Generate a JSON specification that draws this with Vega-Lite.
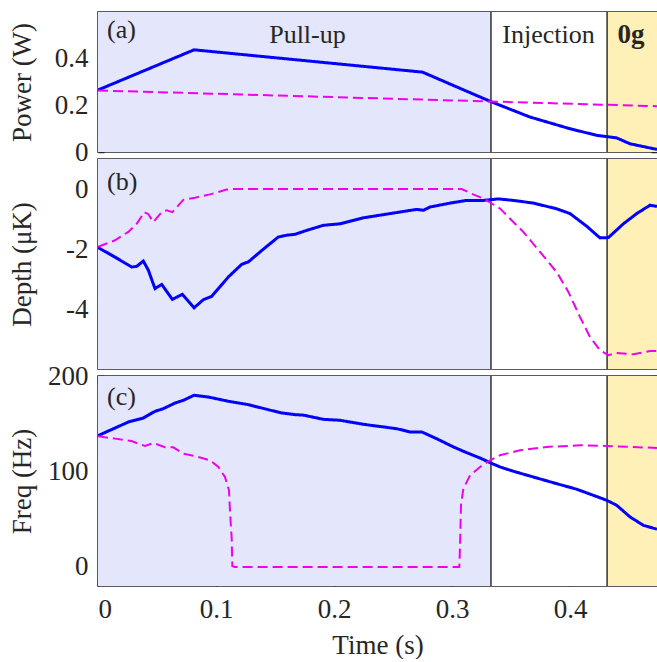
{
  "$schema": "https://vega.github.io/schema/vega-lite/v6.json",
  "padding": {"left": 7, "top": 10, "right": 0, "bottom": 0},
  "bounds": "flush",
  "spacing": 7,
  "datasets": {
    "phases": [
      {"phase": "Pull-up", "start": 0, "end": 0.333},
      {"phase": "Injection", "start": 0.333, "end": 0.4314},
      {"phase": "0g", "start": 0.4314, "end": 0.4737}
    ],
    "labels": [
      {"panel": "a", "kind": "panel", "t": 0.0076, "v": 0.519, "text": "(a)"},
      {"panel": "b", "kind": "panel", "t": 0.0076, "v": 0.23, "text": "(b)"},
      {"panel": "c", "kind": "panel", "t": 0.0076, "v": 178, "text": "(c)"},
      {"panel": "a", "kind": "phase", "t": 0.1775, "v": 0.5, "text": "Pull-up"},
      {"panel": "a", "kind": "phase", "t": 0.3818, "v": 0.5, "text": "Injection"},
      {"panel": "a", "kind": "bold", "t": 0.4517, "v": 0.5, "text": "0g"}
    ],
    "power": [
      {"series": "s1", "t": 0, "v": 0.264},
      {"series": "s1", "t": 0.0814, "v": 0.435},
      {"series": "s1", "t": 0.275, "v": 0.34},
      {"series": "s1", "t": 0.304, "v": 0.277},
      {"series": "s1", "t": 0.3336, "v": 0.213},
      {"series": "s1", "t": 0.366, "v": 0.149},
      {"series": "s1", "t": 0.4, "v": 0.099},
      {"series": "s1", "t": 0.4226, "v": 0.071},
      {"series": "s1", "t": 0.4395, "v": 0.06},
      {"series": "s1", "t": 0.4508, "v": 0.035},
      {"series": "s1", "t": 0.4737, "v": 0.011},
      {"series": "s2", "t": 0, "v": 0.262},
      {"series": "s2", "t": 0.4737, "v": 0.195}
    ],
    "depth": [
      {"series": "s1", "t": 0, "v": -1.95},
      {"series": "s1", "t": 0.0144, "v": -2.27},
      {"series": "s1", "t": 0.0285, "v": -2.6},
      {"series": "s1", "t": 0.0328, "v": -2.58},
      {"series": "s1", "t": 0.0384, "v": -2.4},
      {"series": "s1", "t": 0.0427, "v": -2.71},
      {"series": "s1", "t": 0.0483, "v": -3.32},
      {"series": "s1", "t": 0.054, "v": -3.18},
      {"series": "s1", "t": 0.063, "v": -3.68},
      {"series": "s1", "t": 0.0715, "v": -3.51},
      {"series": "s1", "t": 0.0814, "v": -3.96},
      {"series": "s1", "t": 0.0893, "v": -3.69},
      {"series": "s1", "t": 0.0963, "v": -3.58},
      {"series": "s1", "t": 0.1105, "v": -2.93},
      {"series": "s1", "t": 0.1218, "v": -2.51},
      {"series": "s1", "t": 0.1274, "v": -2.43},
      {"series": "s1", "t": 0.1415, "v": -1.96},
      {"series": "s1", "t": 0.1528, "v": -1.6},
      {"series": "s1", "t": 0.16, "v": -1.54},
      {"series": "s1", "t": 0.167, "v": -1.51},
      {"series": "s1", "t": 0.1768, "v": -1.38},
      {"series": "s1", "t": 0.191, "v": -1.21},
      {"series": "s1", "t": 0.2051, "v": -1.16},
      {"series": "s1", "t": 0.2249, "v": -0.96},
      {"series": "s1", "t": 0.2475, "v": -0.82},
      {"series": "s1", "t": 0.27, "v": -0.68},
      {"series": "s1", "t": 0.2757, "v": -0.71},
      {"series": "s1", "t": 0.2814, "v": -0.6},
      {"series": "s1", "t": 0.2983, "v": -0.47},
      {"series": "s1", "t": 0.3124, "v": -0.38},
      {"series": "s1", "t": 0.3266, "v": -0.38},
      {"series": "s1", "t": 0.3393, "v": -0.33},
      {"series": "s1", "t": 0.352, "v": -0.38},
      {"series": "s1", "t": 0.3689, "v": -0.47},
      {"series": "s1", "t": 0.3887, "v": -0.66},
      {"series": "s1", "t": 0.4, "v": -0.82},
      {"series": "s1", "t": 0.4141, "v": -1.24},
      {"series": "s1", "t": 0.4254, "v": -1.63},
      {"series": "s1", "t": 0.4325, "v": -1.62},
      {"series": "s1", "t": 0.4452, "v": -1.16},
      {"series": "s1", "t": 0.4565, "v": -0.82},
      {"series": "s1", "t": 0.4678, "v": -0.54},
      {"series": "s1", "t": 0.4737, "v": -0.58},
      {"series": "s2", "t": 0, "v": -1.93},
      {"series": "s2", "t": 0.0144, "v": -1.71},
      {"series": "s2", "t": 0.0257, "v": -1.43},
      {"series": "s2", "t": 0.0328, "v": -1.16},
      {"series": "s2", "t": 0.0393, "v": -0.77},
      {"series": "s2", "t": 0.0427, "v": -0.84},
      {"series": "s2", "t": 0.0469, "v": -1.1},
      {"series": "s2", "t": 0.054, "v": -0.77},
      {"series": "s2", "t": 0.0582, "v": -0.71},
      {"series": "s2", "t": 0.063, "v": -0.77},
      {"series": "s2", "t": 0.0723, "v": -0.36},
      {"series": "s2", "t": 0.0822, "v": -0.29},
      {"series": "s2", "t": 0.0949, "v": -0.18},
      {"series": "s2", "t": 0.109, "v": -0.02},
      {"series": "s2", "t": 0.1133, "v": 0},
      {"series": "s2", "t": 0.3082, "v": 0},
      {"series": "s2", "t": 0.3167, "v": -0.16},
      {"series": "s2", "t": 0.3266, "v": -0.32},
      {"series": "s2", "t": 0.3322, "v": -0.45},
      {"series": "s2", "t": 0.3407, "v": -0.65},
      {"series": "s2", "t": 0.3492, "v": -0.99},
      {"series": "s2", "t": 0.3604, "v": -1.43},
      {"series": "s2", "t": 0.3746, "v": -2.1},
      {"series": "s2", "t": 0.3887, "v": -2.77},
      {"series": "s2", "t": 0.3986, "v": -3.43},
      {"series": "s2", "t": 0.4085, "v": -4.27},
      {"series": "s2", "t": 0.4169, "v": -4.93},
      {"series": "s2", "t": 0.4254, "v": -5.38},
      {"series": "s2", "t": 0.4325, "v": -5.54},
      {"series": "s2", "t": 0.4395, "v": -5.47},
      {"series": "s2", "t": 0.4537, "v": -5.51},
      {"series": "s2", "t": 0.4678, "v": -5.4},
      {"series": "s2", "t": 0.4737, "v": -5.4}
    ],
    "freq": [
      {"series": "s1", "t": 0, "v": 137.5},
      {"series": "s1", "t": 0.0144, "v": 145.5},
      {"series": "s1", "t": 0.0257, "v": 151.8},
      {"series": "s1", "t": 0.0384, "v": 156},
      {"series": "s1", "t": 0.0483, "v": 163},
      {"series": "s1", "t": 0.0554, "v": 165.8},
      {"series": "s1", "t": 0.0653, "v": 171.7},
      {"series": "s1", "t": 0.0723, "v": 174.5},
      {"series": "s1", "t": 0.0814, "v": 179.8},
      {"series": "s1", "t": 0.0935, "v": 178},
      {"series": "s1", "t": 0.1105, "v": 173.5},
      {"series": "s1", "t": 0.1274, "v": 170},
      {"series": "s1", "t": 0.1443, "v": 164.7},
      {"series": "s1", "t": 0.1556, "v": 161.3},
      {"series": "s1", "t": 0.167, "v": 159.5},
      {"series": "s1", "t": 0.174, "v": 159},
      {"series": "s1", "t": 0.191, "v": 154.6},
      {"series": "s1", "t": 0.2051, "v": 153.6},
      {"series": "s1", "t": 0.2249, "v": 149.4},
      {"series": "s1", "t": 0.2531, "v": 144.8},
      {"series": "s1", "t": 0.2644, "v": 141.4},
      {"series": "s1", "t": 0.2743, "v": 141.4},
      {"series": "s1", "t": 0.287, "v": 134.3},
      {"series": "s1", "t": 0.3011, "v": 125.7},
      {"series": "s1", "t": 0.3124, "v": 119.7},
      {"series": "s1", "t": 0.3237, "v": 114.1},
      {"series": "s1", "t": 0.3322, "v": 109.2},
      {"series": "s1", "t": 0.3407, "v": 104.7},
      {"series": "s1", "t": 0.352, "v": 100.2},
      {"series": "s1", "t": 0.3689, "v": 94.2},
      {"series": "s1", "t": 0.3887, "v": 87.2},
      {"series": "s1", "t": 0.4056, "v": 81.4},
      {"series": "s1", "t": 0.4198, "v": 75},
      {"series": "s1", "t": 0.4311, "v": 69.8},
      {"series": "s1", "t": 0.4395, "v": 64.6},
      {"series": "s1", "t": 0.4508, "v": 52.4},
      {"series": "s1", "t": 0.4621, "v": 43.6},
      {"series": "s1", "t": 0.4737, "v": 39.5},
      {"series": "s2", "t": 0, "v": 136.8},
      {"series": "s2", "t": 0.0144, "v": 134.4},
      {"series": "s2", "t": 0.0285, "v": 131.9},
      {"series": "s2", "t": 0.0342, "v": 129.1},
      {"series": "s2", "t": 0.0398, "v": 126.7},
      {"series": "s2", "t": 0.0469, "v": 129.8},
      {"series": "s2", "t": 0.0568, "v": 125.3},
      {"series": "s2", "t": 0.0638, "v": 125.3},
      {"series": "s2", "t": 0.0723, "v": 118.7},
      {"series": "s2", "t": 0.0822, "v": 116.2},
      {"series": "s2", "t": 0.0949, "v": 111.7},
      {"series": "s2", "t": 0.102, "v": 104.7},
      {"series": "s2", "t": 0.1076, "v": 94.2},
      {"series": "s2", "t": 0.111, "v": 80.3},
      {"series": "s2", "t": 0.1119, "v": 57.6},
      {"series": "s2", "t": 0.1133, "v": 29.6},
      {"series": "s2", "t": 0.1138, "v": 1},
      {"series": "s2", "t": 0.1158, "v": 0},
      {"series": "s2", "t": 0.3062, "v": 0},
      {"series": "s2", "t": 0.3068, "v": 22.7},
      {"series": "s2", "t": 0.3076, "v": 64.6},
      {"series": "s2", "t": 0.3096, "v": 82},
      {"series": "s2", "t": 0.3153, "v": 96},
      {"series": "s2", "t": 0.3237, "v": 104.7},
      {"series": "s2", "t": 0.3322, "v": 111.7},
      {"series": "s2", "t": 0.3407, "v": 117},
      {"series": "s2", "t": 0.3576, "v": 122.2},
      {"series": "s2", "t": 0.3802, "v": 125.7},
      {"series": "s2", "t": 0.4085, "v": 127.4},
      {"series": "s2", "t": 0.4311, "v": 126.7},
      {"series": "s2", "t": 0.4508, "v": 125.7},
      {"series": "s2", "t": 0.4737, "v": 124.6}
    ]
  },
  "vconcat": [
    {
      "width": 559,
      "height": 140,
      "resolve": {"axis": {"y": "independent"}},
      "layer": [
        {
          "data": {"name": "phases"},
          "mark": {"type": "rect"},
          "encoding": {
            "x": {"field": "start", "type": "quantitative", "scale": {"domain": [0, 0.4737], "nice": false, "zero": false}, "axis": null},
            "x2": {"field": "end"},
            "fill": {"field": "phase", "type": "nominal", "scale": {"domain": ["Pull-up", "Injection", "0g"], "range": ["#e4e6fc", "#ffffff", "#fff0b8"]}, "legend": null}
          }
        },
        {
          "data": {"name": "phases"},
          "transform": [{"filter": "datum.start > 0"}],
          "mark": {"type": "rule", "color": "#303030", "strokeWidth": 1.5},
          "encoding": {"x": {"field": "start", "type": "quantitative", "axis": null}}
        },
        {
          "data": {"name": "power"},
          "mark": {"type": "line", "clip": true},
          "encoding": {
            "x": {"field": "t", "type": "quantitative", "axis": null},
            "y": {"field": "v", "type": "quantitative", "scale": {"domain": [0, 0.596], "nice": false, "zero": false}, "axis": {"values": [0, 0.2, 0.4], "title": "Power (W)", "labelExpr": "'' + datum.value"}},
            "stroke": {"field": "series", "type": "nominal", "scale": {"domain": ["s1", "s2"], "range": ["#0000ff", "#f000f0"]}, "legend": null},
            "strokeDash": {"field": "series", "type": "nominal", "scale": {"domain": ["s1", "s2"], "range": [[1, 0], [10, 5]]}, "legend": null},
            "strokeWidth": {"field": "series", "type": "nominal", "scale": {"domain": ["s1", "s2"], "range": [3, 2]}, "legend": null}
          }
        },
        {
          "data": {"name": "labels"},
          "transform": [{"filter": "datum.panel == 'a' && datum.kind == 'panel'"}],
          "mark": {"type": "text", "align": "left", "baseline": "middle", "fontSize": 26, "color": "#262626"},
          "encoding": {
            "x": {"field": "t", "type": "quantitative", "axis": null},
            "y": {"field": "v", "type": "quantitative", "axis": {"orient": "right", "values": [0, 0.2, 0.4], "labels": false, "title": null}},
            "text": {"field": "text"}
          }
        },
        {
          "data": {"name": "labels"},
          "transform": [{"filter": "datum.panel == 'a' && datum.kind == 'phase'"}],
          "mark": {"type": "text", "align": "center", "baseline": "middle", "fontSize": 26, "color": "#262626"},
          "encoding": {
            "x": {"field": "t", "type": "quantitative", "axis": null},
            "y": {"field": "v", "type": "quantitative", "axis": null},
            "text": {"field": "text"}
          }
        },
        {
          "data": {"name": "labels"},
          "transform": [{"filter": "datum.panel == 'a' && datum.kind == 'bold'"}],
          "mark": {"type": "text", "align": "center", "baseline": "middle", "fontSize": 27, "fontWeight": "bold", "color": "#262626"},
          "encoding": {
            "x": {"field": "t", "type": "quantitative", "axis": null},
            "y": {"field": "v", "type": "quantitative", "axis": null},
            "text": {"field": "text"}
          }
        }
      ]
    },
    {
      "width": 559,
      "height": 210,
      "resolve": {"axis": {"y": "independent"}},
      "layer": [
        {
          "data": {"name": "phases"},
          "mark": {"type": "rect"},
          "encoding": {
            "x": {"field": "start", "type": "quantitative", "scale": {"domain": [0, 0.4737], "nice": false, "zero": false}, "axis": null},
            "x2": {"field": "end"},
            "fill": {"field": "phase", "type": "nominal", "scale": {"domain": ["Pull-up", "Injection", "0g"], "range": ["#e4e6fc", "#ffffff", "#fff0b8"]}, "legend": null}
          }
        },
        {
          "data": {"name": "phases"},
          "transform": [{"filter": "datum.start > 0"}],
          "mark": {"type": "rule", "color": "#303030", "strokeWidth": 1.5},
          "encoding": {"x": {"field": "start", "type": "quantitative", "axis": null}}
        },
        {
          "data": {"name": "depth"},
          "mark": {"type": "line", "clip": true},
          "encoding": {
            "x": {"field": "t", "type": "quantitative", "axis": null},
            "y": {"field": "v", "type": "quantitative", "scale": {"domain": [-6, 1], "nice": false, "zero": false}, "axis": {"values": [-4, -2, 0], "title": "Depth (μK)", "labelExpr": "'' + datum.value"}},
            "stroke": {"field": "series", "type": "nominal", "scale": {"domain": ["s1", "s2"], "range": ["#0000ff", "#f000f0"]}, "legend": null},
            "strokeDash": {"field": "series", "type": "nominal", "scale": {"domain": ["s1", "s2"], "range": [[1, 0], [10, 5]]}, "legend": null},
            "strokeWidth": {"field": "series", "type": "nominal", "scale": {"domain": ["s1", "s2"], "range": [3, 2]}, "legend": null}
          }
        },
        {
          "data": {"name": "labels"},
          "transform": [{"filter": "datum.panel == 'b'"}],
          "mark": {"type": "text", "align": "left", "baseline": "middle", "fontSize": 26, "color": "#262626"},
          "encoding": {
            "x": {"field": "t", "type": "quantitative", "axis": null},
            "y": {"field": "v", "type": "quantitative", "axis": {"orient": "right", "values": [-4, -2, 0], "labels": false, "title": null}},
            "text": {"field": "text"}
          }
        }
      ]
    },
    {
      "width": 559,
      "height": 210,
      "resolve": {"axis": {"x": "independent", "y": "independent"}},
      "layer": [
        {
          "data": {"name": "phases"},
          "mark": {"type": "rect"},
          "encoding": {
            "x": {"field": "start", "type": "quantitative", "scale": {"domain": [0, 0.4737], "nice": false, "zero": false}, "axis": null},
            "x2": {"field": "end"},
            "fill": {"field": "phase", "type": "nominal", "scale": {"domain": ["Pull-up", "Injection", "0g"], "range": ["#e4e6fc", "#ffffff", "#fff0b8"]}, "legend": null}
          }
        },
        {
          "data": {"name": "phases"},
          "transform": [{"filter": "datum.start > 0"}],
          "mark": {"type": "rule", "color": "#303030", "strokeWidth": 1.5},
          "encoding": {"x": {"field": "start", "type": "quantitative", "axis": null}}
        },
        {
          "data": {"name": "freq"},
          "mark": {"type": "line", "clip": true},
          "encoding": {
            "x": {"field": "t", "type": "quantitative", "axis": {"values": [0, 0.1, 0.2, 0.3, 0.4], "title": "Time (s)", "labelExpr": "'' + datum.value"}},
            "y": {"field": "v", "type": "quantitative", "scale": {"domain": [-20, 200], "nice": false, "zero": false}, "axis": {"values": [0, 100, 200], "title": "Freq (Hz)", "labelExpr": "'' + datum.value"}},
            "stroke": {"field": "series", "type": "nominal", "scale": {"domain": ["s1", "s2"], "range": ["#0000ff", "#f000f0"]}, "legend": null},
            "strokeDash": {"field": "series", "type": "nominal", "scale": {"domain": ["s1", "s2"], "range": [[1, 0], [10, 5]]}, "legend": null},
            "strokeWidth": {"field": "series", "type": "nominal", "scale": {"domain": ["s1", "s2"], "range": [3, 2]}, "legend": null}
          }
        },
        {
          "data": {"name": "labels"},
          "transform": [{"filter": "datum.panel == 'c'"}],
          "mark": {"type": "text", "align": "left", "baseline": "middle", "fontSize": 26, "color": "#262626"},
          "encoding": {
            "x": {"field": "t", "type": "quantitative", "axis": {"orient": "top", "values": [0, 0.1, 0.2, 0.3, 0.4], "labels": false, "title": null}},
            "y": {"field": "v", "type": "quantitative", "axis": {"orient": "right", "values": [0, 100, 200], "labels": false, "title": null}},
            "text": {"field": "text"}
          }
        }
      ]
    }
  ],
  "config": {
    "font": "Liberation Serif",
    "view": {"stroke": "#262626", "strokeWidth": 1.5},
    "axis": {
      "labelFont": "Liberation Serif",
      "titleFont": "Liberation Serif",
      "labelFontSize": 27,
      "titleFontSize": 27,
      "titleFontWeight": "normal",
      "labelColor": "#262626",
      "titleColor": "#262626",
      "domain": false,
      "grid": false,
      "tickColor": "#262626",
      "tickWidth": 1.5,
      "tickSize": 6,
      "offset": -6,
      "zindex": 1,
      "labelPadding": 10
    },
    "axisLeft": {"titleX": -74, "titleBaseline": "alphabetic", "labelAlign": "right"},
    "axisBottom": {"titlePadding": 10}
  }
}
